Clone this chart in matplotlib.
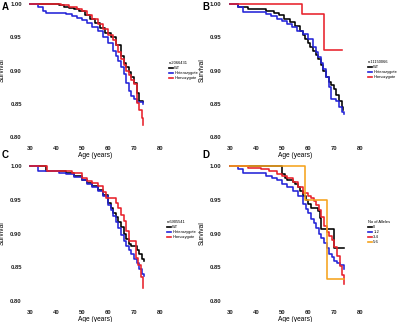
import matplotlib
matplotlib.use("Agg")
import matplotlib.pyplot as plt

plt.rcParams['font.family'] = ['Liberation Sans', 'DejaVu Sans']

# ---------------- data ----------------
# Panel A
a_wt_t = [30, 41, 43, 45, 47, 49, 51, 53, 55, 57, 59, 61, 63, 65, 66, 67, 68, 69, 70, 71, 72, 73.6]
a_wt_s = [1.00, 0.998, 0.996, 0.994, 0.992, 0.989, 0.984, 0.978, 0.971, 0.964, 0.957, 0.950, 0.938, 0.922, 0.912, 0.905, 0.898, 0.890, 0.882, 0.866, 0.855, 0.853]
a_het_t = [30, 33, 35, 36, 44, 46, 48, 50, 52, 54, 56, 58, 60, 62, 63, 64, 65, 66, 67, 68, 69, 70, 71, 73.6]
a_het_s = [1.0, 0.995, 0.990, 0.987, 0.985, 0.982, 0.979, 0.976, 0.971, 0.965, 0.959, 0.951, 0.941, 0.930, 0.922, 0.914, 0.905, 0.895, 0.882, 0.870, 0.862, 0.857, 0.853, 0.850]
a_hom_t = [30, 42, 45, 48, 50, 52, 54, 56, 58, 60, 62, 63, 64, 65, 66, 67, 68, 69, 70, 71, 72, 73, 73.6]
a_hom_s = [1.0, 0.998, 0.996, 0.993, 0.989, 0.984, 0.978, 0.970, 0.962, 0.953, 0.946, 0.938, 0.928, 0.918, 0.908, 0.900, 0.893, 0.886, 0.880, 0.851, 0.840, 0.828, 0.818]

# Panel B
b_wt_t = [30, 33, 37, 41, 44, 47, 49, 51, 53, 55, 57, 58, 59, 60, 61, 62, 63, 64, 65, 66, 67, 68, 69, 70, 71, 72, 73, 73.6]
b_wt_s = [1.0, 0.995, 0.993, 0.992, 0.990, 0.987, 0.983, 0.978, 0.973, 0.967, 0.960, 0.953, 0.947, 0.941, 0.935, 0.930, 0.924, 0.917, 0.909, 0.900, 0.890, 0.883, 0.878, 0.872, 0.863, 0.855, 0.845, 0.840]
b_het_t = [30, 33, 35, 44, 46, 48, 50, 52, 54, 56, 58, 60, 62, 63, 64, 65, 66, 67, 68, 69, 71, 72, 73, 73.8]
b_het_s = [1.0, 0.995, 0.988, 0.985, 0.982, 0.978, 0.974, 0.970, 0.965, 0.960, 0.955, 0.948, 0.936, 0.928, 0.920, 0.912, 0.902, 0.890, 0.875, 0.858, 0.855, 0.845, 0.838, 0.835]
b_hom_t = [30, 57.8, 66.2, 73.3]
b_hom_s = [1.0, 0.985, 0.931, 0.931]

# Panel C
c_wt_t = [30, 36, 41, 44, 47, 50, 52, 54, 56, 58, 60, 61, 62, 63, 64, 65, 66, 67, 68, 69, 71, 72, 73, 73.8]
c_wt_s = [1.0, 0.993, 0.992, 0.990, 0.986, 0.980, 0.975, 0.970, 0.965, 0.957, 0.945, 0.938, 0.931, 0.925, 0.917, 0.910, 0.900, 0.892, 0.884, 0.881, 0.876, 0.869, 0.862, 0.860]
c_het_t = [30, 33, 41, 44, 47, 50, 52, 54, 56, 58, 60, 61, 62, 63, 64, 65, 66, 67, 68, 69, 70, 71, 72, 73, 73.8]
c_het_s = [1.0, 0.993, 0.990, 0.988, 0.984, 0.979, 0.974, 0.969, 0.963, 0.955, 0.943, 0.935, 0.926, 0.917, 0.908, 0.898, 0.889, 0.882, 0.876, 0.870, 0.862, 0.856, 0.848, 0.840, 0.837]
c_hom_t = [30, 36.4, 46, 50, 52, 54, 56, 58, 59.3, 62, 63, 64, 65, 66, 67, 68, 70.7, 71.5, 72.5, 73.3, 73.6]
c_hom_s = [1.0, 0.993, 0.990, 0.982, 0.978, 0.975, 0.970, 0.962, 0.953, 0.953, 0.946, 0.938, 0.928, 0.918, 0.904, 0.889, 0.864, 0.854, 0.835, 0.820, 0.820]

# Panel D (number of alleles)
d0_t = [30, 50, 51, 52, 54, 55, 56, 57, 58, 59, 60, 61, 63.6, 64.5, 65, 69.8, 73.5]
d0_s = [1.0, 0.988, 0.983, 0.980, 0.976, 0.973, 0.969, 0.963, 0.956, 0.950, 0.944, 0.938, 0.933, 0.923, 0.906, 0.878, 0.878]
d12_t = [30, 33, 35, 44, 46, 48, 50, 52, 54, 56, 58, 59, 60, 61, 62, 63, 64, 65, 66, 67, 68, 69, 70, 71, 72, 73.5]
d12_s = [1.0, 0.995, 0.990, 0.985, 0.982, 0.979, 0.974, 0.969, 0.963, 0.956, 0.944, 0.937, 0.930, 0.922, 0.915, 0.908, 0.900, 0.893, 0.886, 0.878, 0.870, 0.865, 0.860, 0.857, 0.853, 0.847]
d34_t = [30, 37, 42, 45, 48, 50, 52, 54, 56, 58, 60, 61, 62, 63, 64, 65, 66, 67, 68, 69, 70, 71, 72, 73, 73.5]
d34_s = [1.0, 0.997, 0.995, 0.992, 0.989, 0.986, 0.982, 0.976, 0.969, 0.960, 0.955, 0.953, 0.948, 0.942, 0.935, 0.925, 0.911, 0.903, 0.896, 0.890, 0.880, 0.866, 0.852, 0.838, 0.825]
d56_t = [30, 58.6, 67.2, 73.5]
d56_s = [1.0, 0.949, 0.833, 0.833]

geno_labels = ["WT", "Heterozygote", "Homozygote"]
allele_labels = ["0", "1-2", "3-4", "5-6"]
snp_titles = ["rs2066431", "rs11150066", "rs6905541"]
allele_title = "No of Alleles"

x_ticks = [30, 40, 50, 60, 70, 80]
y_ticks = [0.80, 0.85, 0.90, 0.95, 1.00]

BLACK = "#000000"
BLUE = "#2323d8"
RED = "#e8212b"
ORANGE = "#f5a31d"

# ---------------- figure ----------------
fig = plt.figure(figsize=(4.0, 3.22), dpi=100)

W, H = 400.0, 322.0
positions = {
    "A": [0.0685, 0.564, 0.338, 0.4335],
    "B": [0.568, 0.564, 0.338, 0.4335],
    "C": [0.0685, 0.0547, 0.338, 0.44],
    "D": [0.568, 0.0547, 0.34, 0.44],
}

panels = {
    "A": ([(a_wt_t, a_wt_s, BLACK), (a_het_t, a_het_s, BLUE), (a_hom_t, a_hom_s, RED)], geno_labels, snp_titles[0], (169, 61)),
    "B": ([(b_wt_t, b_wt_s, BLACK), (b_het_t, b_het_s, BLUE), (b_hom_t, b_hom_s, RED)], geno_labels, snp_titles[1], (368, 60)),
    "C": ([(c_wt_t, c_wt_s, BLACK), (c_het_t, c_het_s, BLUE), (c_hom_t, c_hom_s, RED)], geno_labels, snp_titles[2], (167, 220)),
    "D": ([(d0_t, d0_s, BLACK), (d12_t, d12_s, BLUE), (d34_t, d34_s, RED), (d56_t, d56_s, ORANGE)], allele_labels, allele_title, (368, 220)),
}
letter_pos = {"A": (2, 2), "B": (202, 2), "C": (2, 150), "D": (202, 150)}

for key, (series, labels, title, lpos) in panels.items():
    ax = fig.add_axes(positions[key])
    handles = []
    for (t, s, c), lab in zip(series, labels):
        h, = ax.plot(t, s, drawstyle="steps-post", color=c, lw=1.15, label=lab)
        handles.append(h)
    ax.set_xlim(29, 81)
    ax.set_ylim(0.795, 1.005)
    ax.set_xticks(x_ticks)
    ax.set_yticks(y_ticks)
    ax.set_yticklabels([f"{v:.2f}" for v in y_ticks])
    for sp in ax.spines.values():
        sp.set_visible(False)
    ax.tick_params(length=0, labelsize=4.2, pad=4)
    for lab in ax.get_xticklabels() + ax.get_yticklabels():
        lab.set_fontweight("bold")
        lab.set_color("#222222")
    ax.set_xlabel("Age (years)", fontsize=4.8, labelpad=1)
    ax.set_ylabel("Survival", fontsize=4.8, labelpad=3)
    leg = ax.legend(handles=handles, title=title, loc="upper left",
                    bbox_to_anchor=(lpos[0] / W, 1 - lpos[1] / H),
                    bbox_transform=fig.transFigure, frameon=False,
                    fontsize=2.9, title_fontsize=2.9, handlelength=0.9,
                    handletextpad=0.4, labelspacing=0.25, borderaxespad=0,
                    borderpad=0)
    leg._legend_box.align = "left"
    for line in leg.get_lines():
        line.set_linewidth(1.2)
    fig.text(letter_pos[key][0] / W, 1 - letter_pos[key][1] / H, key,
             fontsize=7, fontweight="bold", ha="left", va="top")

fig.savefig("out.png", dpi=100)
